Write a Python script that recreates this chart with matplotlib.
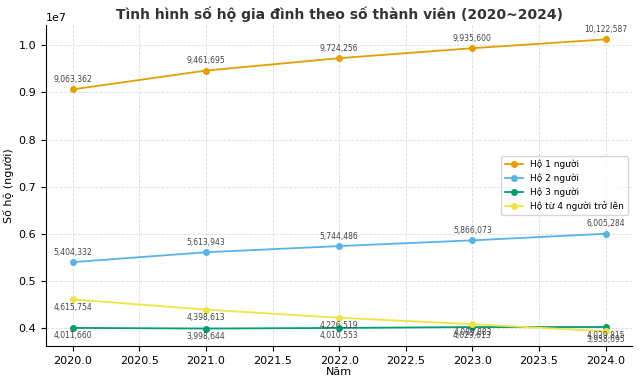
import matplotlib.pyplot as plt

years = [2020, 2021, 2022, 2023, 2024]
ho_1 = [9063362, 9461695, 9724256, 9935600, 10122587]
ho_2 = [5404332, 5613943, 5744486, 5866073, 6005284]
ho_3 = [4011660, 3998644, 4010553, 4029613, 4029815]
ho_4 = [4615754, 4398613, 4226519, 4089883, 3938695]

series = [
    ('Hộ 1 người', ho_1, '#E69F00', 4),
    ('Hộ 2 người', ho_2, '#56B4E9', 4),
    ('Hộ 3 người', ho_3, '#009E73', -9),
    ('Hộ từ 4 người trở lên', ho_4, '#F0E442', -9),
]

fig, ax = plt.subplots(figsize=(6.4, 3.81), dpi=100)
for label, vals, color, dy in series:
    ax.plot(years, vals, marker='o', markersize=4, color=color, label=label, linewidth=1.3)
    for x, y in zip(years, vals):
        ax.annotate(f'{y:,}', (x, y), textcoords='offset points', xytext=(0, dy),
                    ha='center', va='bottom', fontsize=5.5, color='#444444')

ax.set_title('Tình hình số hộ gia đình theo số thành viên (2020~2024)',
             fontsize=10, fontweight='bold', color='#333333', pad=4)
ax.set_xlabel('Năm', fontsize=8, labelpad=1)
ax.set_ylabel('Số hộ (người)', fontsize=8, labelpad=3)
ax.tick_params(labelsize=8)
ax.yaxis.get_offset_text().set_fontsize(8)
ax.grid(True, linestyle='--', color='#dddddd', linewidth=0.6)
ax.spines['top'].set_visible(False)
ax.spines['right'].set_visible(False)
ax.legend(loc='center right', fontsize=6.5, bbox_to_anchor=(1.0, 0.5))
fig.subplots_adjust(left=0.072, right=0.988, top=0.935, bottom=0.092)
fig.savefig('out.png')
